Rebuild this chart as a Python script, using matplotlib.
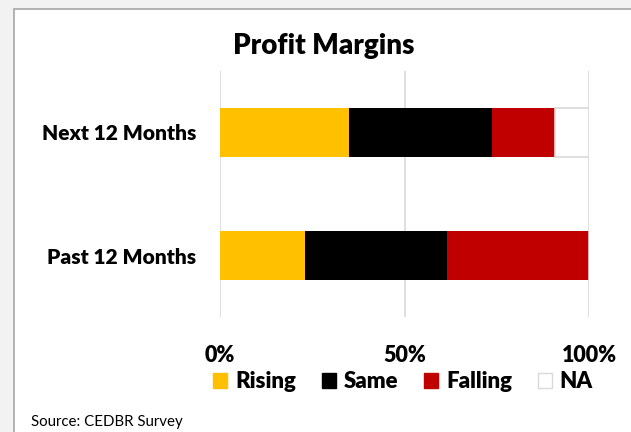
import matplotlib
matplotlib.use("Agg")
import matplotlib.pyplot as plt
from matplotlib.patches import Rectangle, Patch

# survey shares (percent of respondents)
categories = ["Past 12 Months", "Next 12 Months"]
series = ["Rising", "Same", "Falling", "NA"]
values = {
    "Rising": [22.9, 35.0],
    "Same": [38.6, 38.8],
    "Falling": [38.5, 16.9],
    "NA": [0.0, 9.3],
}
tick_vals = [0, 50, 100]
tick_labels = ["0%", "50%", "100%"]

colors = {"Rising": "#FFC000", "Same": "#000000", "Falling": "#C00000", "NA": "#FFFFFF"}
edges = {"Rising": "none", "Same": "none", "Falling": "none", "NA": "#D9D9D9"}

plt.rcParams['font.family'] = ['Lato', 'DejaVu Sans']

W, H = 631, 432
fig = plt.figure(figsize=(W / 100, H / 100), dpi=100)
fig.patch.set_facecolor("#F2F2F2")

# white chart frame (behind the axes)
fig.patches.append(Rectangle((14 / W, -0.1), 1.1, (H - 9) / H + 0.1,
                             transform=fig.transFigure, facecolor="white",
                             edgecolor="#A6A6A6", linewidth=1.2, zorder=-1))

ax = fig.add_axes([220 / W, (H - 317) / H, 369 / W, 246 / H])
ax.set_facecolor("none")
ax.set_zorder(1)

left = [0.0] * len(categories)
for s in series:
    ax.barh(range(len(categories)), values[s], left=left, height=0.405,
            color=colors[s], edgecolor=edges[s], linewidth=1.2, label=s, zorder=3)
    left = [a + b for a, b in zip(left, values[s])]

ax.set_xlim(0, 100)
ax.set_ylim(-0.5, 1.5)
ax.set_xticks(tick_vals)
ax.set_xticklabels(tick_labels, fontsize=15.5, fontweight="heavy")
ax.set_yticks(range(len(categories)))
ax.set_yticklabels(categories, fontsize=15, fontweight="heavy")
ax.tick_params(length=0)
ax.tick_params(axis="x", pad=20)
ax.tick_params(axis="y", pad=17)
ax.grid(axis="x", color="#D9D9D9", linewidth=1.2, zorder=0)
for sp in ax.spines.values():
    sp.set_visible(False)

fig.text(324 / W, 1 - 46 / H, "Profit Margins", ha="center", va="center",
         fontsize=20, fontweight="heavy")

handles = [Patch(facecolor=colors[s], edgecolor=edges[s] if s == "NA" else colors[s]) for s in series]
fig.legend(handles, series, loc="center", bbox_to_anchor=(403 / W, 1 - 382 / H),
           ncol=4, frameon=False, prop={"size": 16, "weight": "heavy"},
           handlelength=0.65, handleheight=0.65, handletextpad=0.35, columnspacing=1.15)

fig.text(31 / W, 1 - 422 / H, "Source: CEDBR Survey", ha="left", va="center", fontsize=10.8)

fig.savefig("out.png", dpi=100, facecolor=fig.get_facecolor())
